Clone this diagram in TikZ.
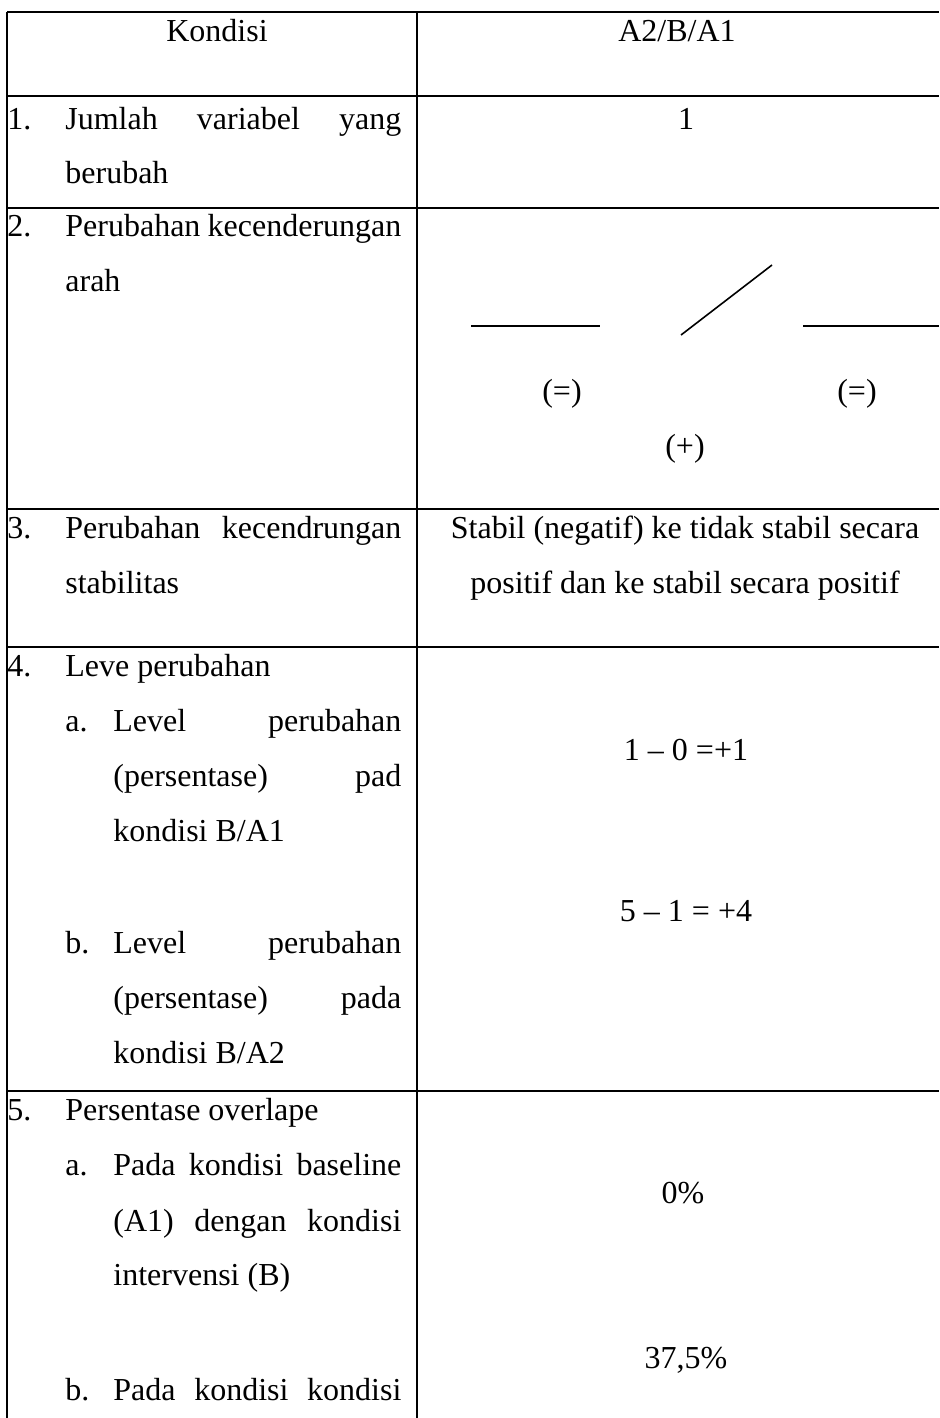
\documentclass[tikz,border=0pt]{standalone}
\usepackage{fontspec}
\setmainfont{Liberation Serif}
\begin{document}
\begin{tikzpicture}[x=0.5pt,y=-0.5pt,
  txt/.style={inner sep=0pt,anchor=mid west,yshift=-2pt,font=\fontsize{16pt}{18pt}\selectfont},
  ctxt/.style={inner sep=0pt,anchor=mid,yshift=-2pt,font=\fontsize{16pt}{18pt}\selectfont},
  rule/.style={line width=1pt,black},
  trend/.style={line width=0.8pt,black}]
\useasboundingbox (0,0) rectangle (939,1418);
% grid coordinates
\foreach \n/\y in {a/12,b/96,c/208,d/509,e/647,f/1091}{
  \coordinate (L\n) at (7,\y);
  \coordinate (R\n) at (939,\y);
  \draw[rule] (L\n) -- (R\n);
}
\coordinate (VLt) at (7,12); \coordinate (VLb) at (7,1418);
\coordinate (VMt) at (417,12); \coordinate (VMb) at (417,1418);
\draw[rule] (VLt) -- (VLb);
\draw[rule] (VMt) -- (VMb);
% header
\node[ctxt] (h1) at (217,33) {Kondisi};
\node[ctxt] (h2) at (677,33) {A2/B/A1};
% row 1
\node[txt] (n1) at (7,121) {1.};
\node[txt] (r1a) at (65,121) {\makebox[168pt][s]{Jumlah variabel yang}};
\node[txt] (r1b) at (65,175) {berubah};
\node[ctxt] (v1) at (686,121) {1};
% row 2
\node[txt] (n2) at (7,228) {2.};
\node[txt] (r2a) at (65,228) {\makebox[168pt][s]{Perubahan kecenderungan}};
\node[txt] (r2b) at (65,283) {arah};
\coordinate (t1a) at (471,326); \coordinate (t1b) at (600,326);
\coordinate (t2a) at (681,335); \coordinate (t2b) at (772,265);
\coordinate (t3a) at (803,326); \coordinate (t3b) at (939,326);
\draw[trend] (t1a) -- (t1b);
\draw[trend] (t2a) -- (t2b);
\draw[trend] (t3a) -- (t3b);
\node[ctxt] (eq1) at (562,393) {(=)};
\node[ctxt] (pl) at (685,448) {(+)};
\node[ctxt] (eq2) at (857,393) {(=)};
% row 3
\node[txt] (n3) at (7,530) {3.};
\node[txt] (r3a) at (65,530) {\makebox[168pt][s]{Perubahan kecendrungan}};
\node[txt] (r3b) at (65,585) {stabilitas};
\node[ctxt] (v3a) at (685,530) {Stabil (negatif) ke tidak stabil secara};
\node[ctxt] (v3b) at (685,585) {positif dan ke stabil secara positif};
% row 4
\node[txt] (n4) at (7,668) {4.};
\node[txt] (r4) at (65,668) {Leve perubahan};
\node[txt] (r4aa) at (65,723) {a.};
\node[txt] (r4a1) at (113,723) {\makebox[144pt][s]{Level perubahan}};
\node[txt] (r4a2) at (113,778) {\makebox[144pt][s]{(persentase) pad}};
\node[txt] (r4a3) at (113,833) {kondisi B/A1};
\node[txt] (r4bb) at (65,945) {b.};
\node[txt] (r4b1) at (113,945) {\makebox[144pt][s]{Level perubahan}};
\node[txt] (r4b2) at (113,1000) {\makebox[144pt][s]{(persentase) pada}};
\node[txt] (r4b3) at (113,1055) {kondisi B/A2};
\node[ctxt] (v4a) at (686,752) {1 – 0 =+1};
\node[ctxt] (v4b) at (686,913) {5 – 1 = +4};
% row 5
\node[txt] (n5) at (7,1112) {5.};
\node[txt] (r5) at (65,1112) {Persentase overlape};
\node[txt] (r5aa) at (65,1167) {a.};
\node[txt] (r5a1) at (113,1167) {\makebox[144pt][s]{Pada kondisi baseline}};
\node[txt] (r5a2) at (113,1223) {\makebox[144pt][s]{(A1) dengan kondisi}};
\node[txt] (r5a3) at (113,1277) {intervensi (B)};
\node[txt] (r5bb) at (65,1392) {b.};
\node[txt] (r5b1) at (113,1392) {\makebox[144pt][s]{Pada kondisi kondisi}};
\node[ctxt] (v5a) at (683,1195) {0\%};
\node[ctxt] (v5b) at (686,1360) {37,5\%};
\end{tikzpicture}
\end{document}
